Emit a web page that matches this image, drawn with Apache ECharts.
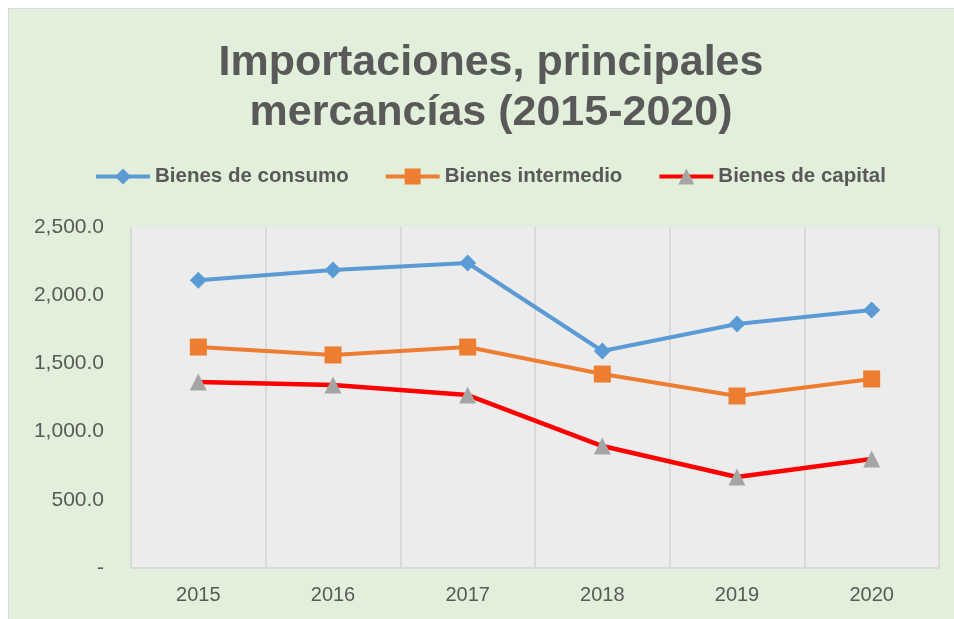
<!DOCTYPE html>
<html>
<head>
<meta charset="utf-8">
<script src="https://cdn.jsdelivr.net/npm/echarts@6/dist/echarts.min.js"></script>
<style>
html,body{margin:0;padding:0;background:#ffffff;}
#c{width:954px;height:619px;}
</style>
</head>
<body>
<div id="c"></div>
<script>
var categories = ['2015', '2016', '2017', '2018', '2019', '2020'];
var bienesConsumo = [2110, 2185, 2236, 1591, 1789, 1891];
var bienesIntermedio = [1620, 1562, 1620, 1422, 1261, 1386];
var bienesCapital = [1364, 1342, 1268, 894, 667, 799];
var seriesNames = ['Bienes de consumo', 'Bienes intermedio', 'Bienes de capital'];
var titleLines = ['Importaciones, principales', 'mercancías (2015-2020)'];

var chart = echarts.init(document.getElementById('c'), null, {renderer: 'canvas'});
var F = '"Liberation Sans", Arial, sans-serif';
var option = {
  backgroundColor: '#ffffff',
  animation: false,
  graphic: [{
    type: 'rect', z: -10, silent: true,
    shape: {x: 8.5, y: 8.5, width: 960, height: 620},
    style: {fill: '#e2efda', stroke: '#d9d9d9', lineWidth: 1}
  }],
  title: {
    text: titleLines.join('\n'),
    left: 486, top: 33, textAlign: 'center',
    textStyle: {fontFamily: F, fontWeight: 'bold', fontSize: 43, color: '#595959', lineHeight: 50}
  },
  legend: {
    left: 89, top: 161,
    itemWidth: 54, itemHeight: 20, itemGap: 35,
    lineStyle: {width: 4},
    textStyle: {fontFamily: F, fontWeight: 'bold', fontSize: 20.5, color: '#595959'},
    data: seriesNames
  },
  grid: {left: 131, right: 15, top: 227, bottom: 51, show: true, backgroundColor: '#ececec', borderWidth: 0},
  xAxis: {
    type: 'category', data: categories, boundaryGap: true,
    axisLine: {show: true, lineStyle: {color: '#d9d9d9', width: 2}},
    axisTick: {show: false},
    splitLine: {show: true, lineStyle: {color: '#d9d9d9', width: 2}},
    axisLabel: {fontFamily: F, fontSize: 20, color: '#595959', margin: 17}
  },
  yAxis: {
    type: 'value', min: 0, max: 2500, interval: 500,
    axisLine: {show: false}, axisTick: {show: false}, splitLine: {show: false},
    axisLabel: {
      fontFamily: F, fontSize: 21, color: '#595959', margin: 27,
      formatter: function (v) {
        if (v === 0) return '-';
        return v.toLocaleString('en-US', {minimumFractionDigits: 1, maximumFractionDigits: 1});
      }
    }
  },
  series: [{
    name: seriesNames[0], type: 'line', data: bienesConsumo,
    symbol: 'diamond', symbolSize: 17,
    lineStyle: {color: '#5b9bd5', width: 4},
    itemStyle: {color: '#5b9bd5'}
  }, {
    name: seriesNames[1], type: 'line', data: bienesIntermedio,
    symbol: 'rect', symbolSize: 17,
    lineStyle: {color: '#ed7d31', width: 4},
    itemStyle: {color: '#ed7d31'}
  }, {
    name: seriesNames[2], type: 'line', data: bienesCapital,
    symbol: 'triangle', symbolSize: 17,
    lineStyle: {color: '#ff0000', width: 4.5},
    itemStyle: {color: '#a5a5a5'}
  }]
};
chart.setOption(option);
</script>
</body>
</html>
